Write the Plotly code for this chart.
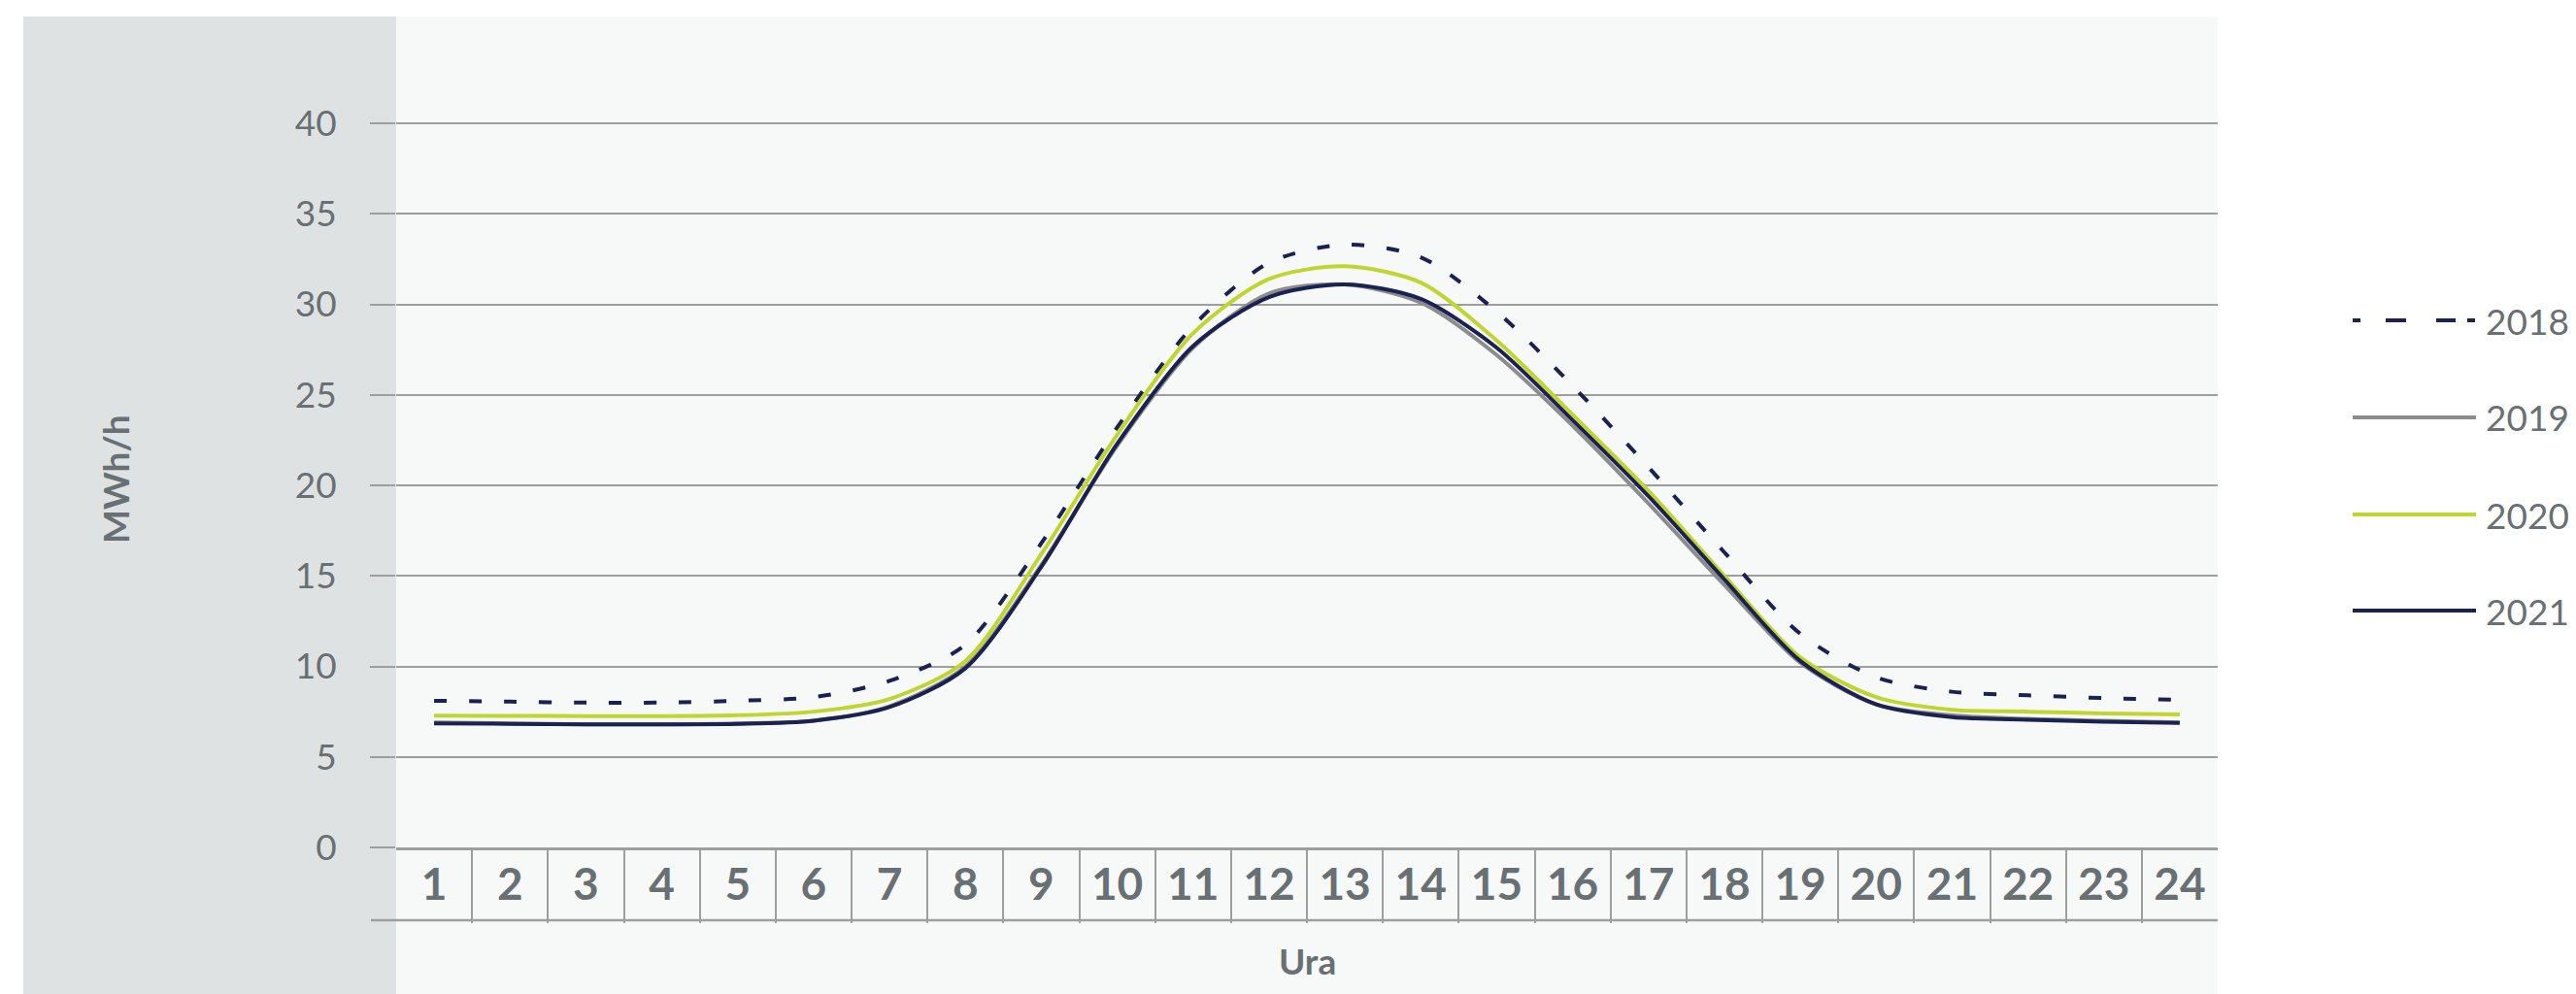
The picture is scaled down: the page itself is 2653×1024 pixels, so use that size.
import plotly.graph_objects as go

hours = list(range(1, 25))
hour_labels = [str(h) for h in hours]

years = ["2018", "2019", "2020", "2021"]
y2018 = [8.1, 8.05, 8.0, 8.0, 8.1, 8.3, 9.2, 11.2, 16.8, 23.2, 28.8, 32.3,
         33.3, 32.6, 29.6, 25.5, 21.0, 16.3, 11.8, 9.4, 8.6, 8.4, 8.25, 8.15]
y2019 = [6.9, 6.85, 6.8, 6.8, 6.85, 7.0, 7.8, 10.0, 15.6, 22.2, 27.6, 30.6,
         31.1, 30.1, 27.2, 23.3, 19.0, 14.5, 10.2, 7.9, 7.3, 7.1, 7.0, 6.9]
y2020 = [7.28, 7.27, 7.25, 7.25, 7.3, 7.5, 8.2, 10.3, 16.2, 22.8, 28.4, 31.4,
         32.1, 31.2, 28.0, 23.9, 19.7, 15.0, 10.5, 8.3, 7.6, 7.5, 7.4, 7.35]
y2021 = [6.85, 6.83, 6.8, 6.8, 6.82, 7.0, 7.75, 9.9, 15.5, 22.3, 27.7, 30.4,
         31.1, 30.3, 27.6, 23.6, 19.4, 14.8, 10.3, 7.9, 7.2, 7.05, 6.95, 6.88]

y_ticks = [0, 5, 10, 15, 20, 25, 30, 35, 40]

NAVY = "#1b2150"
GREY = "#8c8c8c"
LIME = "#bfd630"
TEXT = "#697073"
GRID = "#9e9e9e"
PANEL = "#dfe2e3"
PLOT_BG = "#f7f9f9"

# the page body adds an 8px margin, so figure coords = page coords - 8
OFF = 8
W, H = 2653, 1024
L = 408 - OFF
T = 17 - OFF
R = W - (2284 - OFF)
B = H - (873 - OFF)
PW, PH = W - L - R, H - T - B


def px_x(x):
    """Page x (px) -> paper x."""
    return (x - OFF - L) / PW


def px_y(y):
    """Page y (px) -> paper y."""
    return (H - B - (y - OFF)) / PH


styles = {
    "2018": {"color": NAVY, "dash": "13px,23px"},
    "2019": {"color": GREY, "dash": "solid"},
    "2020": {"color": LIME, "dash": "solid"},
    "2021": {"color": NAVY, "dash": "solid"},
}
series = {"2018": y2018, "2019": y2019, "2020": y2020, "2021": y2021}

fig = go.Figure()
for year in years:
    fig.add_trace(
        go.Scatter(
            x=hours,
            y=series[year],
            mode="lines",
            name=year,
            line={"color": styles[year]["color"], "width": 4,
                  "dash": styles[year]["dash"], "shape": "spline",
                  "smoothing": 0.8},
            showlegend=False,
        )
    )

shapes = [
    # grey panel behind the y axis
    dict(type="rect", xref="paper", yref="paper", x0=px_x(24), x1=0,
         y0=px_y(H + OFF), y1=1, fillcolor=PANEL, line_width=0,
         layer="below"),
    # light panel under the hour band
    dict(type="rect", xref="paper", yref="paper", x0=0, x1=1,
         y0=px_y(H + OFF), y1=1, fillcolor=PLOT_BG, line_width=0,
         layer="below"),
    # bottom rule of the hour band
    dict(type="line", xref="paper", yref="paper", x0=px_x(382), x1=1,
         y0=px_y(948), y1=px_y(948), line={"color": GRID, "width": 2.5}),
]

# legend drawn by hand, long sample lines as in the source
legend_y = [330, 430, 530, 629]
legend_dash = {"2018": "8px,26px,21px,31px,20px,12px,8px,40px"}
annotations = []
for year, ly in zip(years, legend_y):
    shapes.append(
        dict(type="line", xref="paper", yref="paper",
             x0=px_x(2423), x1=px_x(2550), y0=px_y(ly), y1=px_y(ly),
             line={"color": styles[year]["color"], "width": 4,
                   "dash": legend_dash.get(year, "solid")})
    )
    annotations.append(
        dict(text=year, xref="paper", yref="paper", x=px_x(2558),
             y=px_y(ly), xanchor="left", yanchor="middle", showarrow=False,
             font={"size": 37, "color": TEXT, "family": "Lato"})
    )

annotations += [
    dict(text="Ura", xref="paper", yref="paper", x=0.5, y=px_y(989),
         xanchor="center", yanchor="middle", showarrow=False,
         font={"size": 37, "color": TEXT, "family": "Lato", "weight": "bold"}),
    dict(text="MWh/h", xref="paper", yref="paper", x=px_x(119),
         y=px_y(494), xanchor="center", yanchor="middle", showarrow=False,
         textangle=-90,
         font={"size": 37, "color": TEXT, "family": "Lato", "weight": "bold"}),
]

fig.update_layout(
    width=W,
    height=H,
    margin={"l": L, "r": R, "t": T, "b": B, "pad": 0},
    paper_bgcolor="white",
    plot_bgcolor=PLOT_BG,
    font={"family": "Lato", "color": TEXT},
    shapes=shapes,
    annotations=annotations,
    showlegend=False,
)
fig.update_xaxes(
    range=[0.5, 24.5],
    tickmode="array",
    tickvals=hours,
    ticktext=hour_labels,
    ticks="",
    tickfont={"size": 46, "color": TEXT, "family": "Lato", "weight": "bold"},
    ticklabelstandoff=-4,
    showgrid=False,
    zeroline=False,
    showline=True,
    linecolor=GRID,
    linewidth=2.5,
    minor={"tickmode": "array", "tickvals": [h + 0.5 for h in hours[:-1]],
           "ticks": "outside", "ticklen": 75, "tickwidth": 2,
           "tickcolor": GRID, "showgrid": False},
    fixedrange=True,
)
fig.update_yaxes(
    range=[0, 45.9],
    tickmode="array",
    tickvals=y_ticks,
    ticks="outside",
    ticklen=26,
    tickwidth=2,
    tickcolor=GRID,
    tickfont={"size": 37, "color": TEXT, "family": "Lato"},
    ticklabelstandoff=27,
    showgrid=True,
    gridcolor=GRID,
    gridwidth=2,
    zeroline=False,
    showline=False,
    fixedrange=True,
)

fig.write_html("out.html")
